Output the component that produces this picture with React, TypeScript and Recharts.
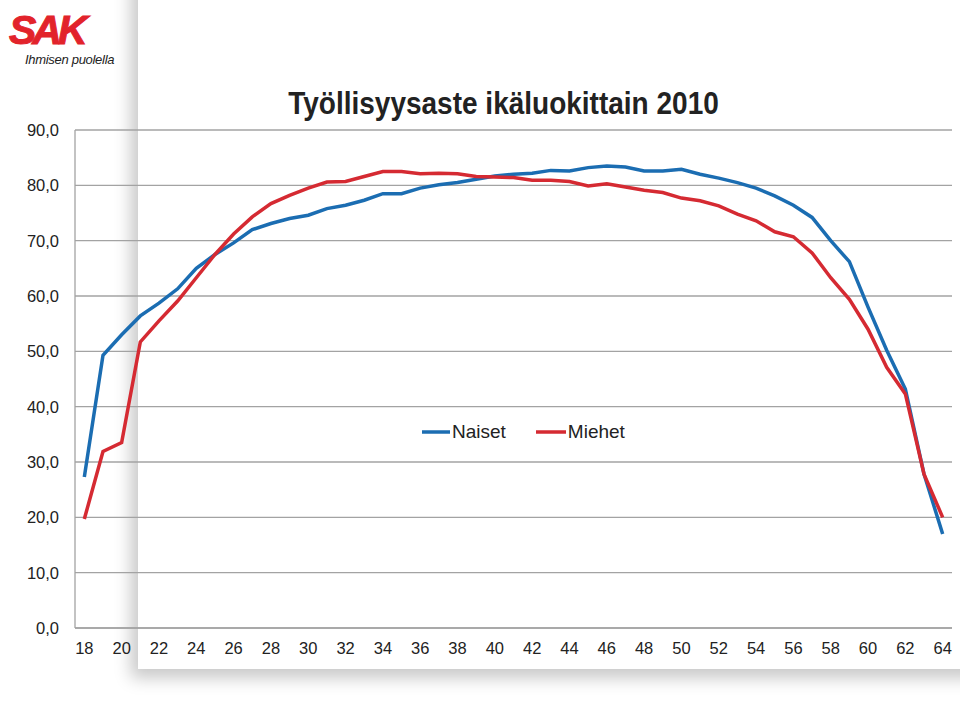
import React from 'react';
import { LineChart, Line, XAxis, YAxis, CartesianGrid, Legend } from 'recharts';

const ages: number[] = [18,19,20,21,22,23,24,25,26,27,28,29,30,31,32,33,34,35,36,37,38,39,40,41,42,43,44,45,46,47,48,49,50,51,52,53,54,55,56,57,58,59,60,61,62,63,64];
const naiset: number[] = [27.3,49.3,53.0,56.4,58.7,61.3,65.0,67.5,69.6,72.0,73.1,74.0,74.6,75.8,76.4,77.3,78.5,78.5,79.5,80.1,80.5,81.1,81.7,82.0,82.2,82.7,82.6,83.2,83.5,83.3,82.6,82.6,82.9,82.0,81.3,80.5,79.5,78.1,76.4,74.2,70.0,66.2,58.0,50.2,43.2,27.8,17.0];
const miehet: number[] = [19.7,31.9,33.5,51.7,55.5,59.1,63.3,67.5,71.2,74.3,76.7,78.2,79.5,80.6,80.7,81.6,82.5,82.5,82.1,82.2,82.1,81.6,81.5,81.4,80.9,80.9,80.7,79.9,80.3,79.7,79.1,78.7,77.7,77.2,76.3,74.8,73.6,71.6,70.7,67.8,63.3,59.4,54.0,47.1,42.3,27.8,20.0];
const xTicks: number[] = [18,20,22,24,26,28,30,32,34,36,38,40,42,44,46,48,50,52,54,56,58,60,62,64];
const yTicks: number[] = [0,10,20,30,40,50,60,70,80,90];

const BLUE = '#1b6db2';
const RED = '#d52a32';
const FONT = '"Liberation Sans", Arial, Helvetica, sans-serif';

const data = ages.map((a, i) => ({ age: a, Naiset: naiset[i], Miehet: miehet[i] }));

const LegendContent = () => (
  <div style={{ display: 'flex', alignItems: 'center', fontFamily: FONT, fontSize: 19, color: '#222' }}>
    <svg width={28} height={10} style={{ marginRight: 2 }}><line x1={0} y1={5} x2={28} y2={5} stroke={BLUE} strokeWidth={3.5} /></svg>
    <span style={{ marginRight: 30 }}>Naiset</span>
    <svg width={30} height={10} style={{ marginRight: 2 }}><line x1={0} y1={5} x2={30} y2={5} stroke={RED} strokeWidth={3.5} /></svg>
    <span>Miehet</span>
  </div>
);

export default function App() {
  return (
    <div style={{ position: 'absolute', left: 0, top: 0, width: 960, height: 712, overflow: 'hidden', background: '#fff', fontFamily: FONT }}>
      <div style={{ position: 'absolute', left: 138, top: -30, width: 850, height: 699, background: '#fff', boxShadow: '-7px 9px 16px rgba(0,0,0,0.22)' }} />
      <div style={{ position: 'absolute', left: 9, top: 10, fontSize: 41, fontWeight: 900, fontStyle: 'italic', color: '#e2232b', letterSpacing: -4, lineHeight: '41px', WebkitTextStroke: '1px #e2232b' }}>SAK</div>
      <div style={{ position: 'absolute', left: 25, top: 52, fontSize: 13, fontStyle: 'italic', color: '#222', lineHeight: '15px', letterSpacing: -0.3 }}>Ihmisen puolella</div>
      <div style={{ position: 'absolute', left: 0, width: 1007, top: 89, textAlign: 'center', fontSize: 28, fontWeight: 'bold', color: '#222', lineHeight: '32px', transform: 'scaleY(1.1)', transformOrigin: '50% 26px' }}>Työllisyysaste ikäluokittain 2010</div>
      <div style={{ position: 'absolute', left: 0, top: 0 }}>
        <LineChart width={960} height={712} data={data} margin={{ top: 130, right: 8, bottom: 54, left: 8 }}>
          <CartesianGrid vertical={false} stroke="#a3a3a3" strokeWidth={1.3} />
          <XAxis dataKey="age" type="number" domain={[17.5, 64.5]} ticks={xTicks} interval={0} height={30}
            axisLine={{ stroke: '#a3a3a3', strokeWidth: 1.3 }} tickLine={false} tickSize={0} tickMargin={14}
            tick={{ fill: '#222', fontSize: 16.5, fontFamily: FONT }} />
          <YAxis type="number" domain={[0, 90]} ticks={yTicks} width={67} interval={0}
            axisLine={{ stroke: '#a3a3a3', strokeWidth: 1.3 }} tickLine={false} tickSize={0} tickMargin={16}
            tickFormatter={(v: number) => v.toFixed(1).replace('.', ',')}
            tick={{ fill: '#222', fontSize: 16.5, fontFamily: FONT }} />
          <Legend layout="horizontal" verticalAlign="middle" align="center" content={LegendContent}
            wrapperStyle={{ position: 'absolute', left: 422, top: 421, width: 240, height: 26 }} />
          <Line type="linear" dataKey="Naiset" stroke={BLUE} strokeWidth={3.5} dot={false} isAnimationActive={false} />
          <Line type="linear" dataKey="Miehet" stroke={RED} strokeWidth={3.5} dot={false} isAnimationActive={false} />
        </LineChart>
      </div>
    </div>
  );
}
